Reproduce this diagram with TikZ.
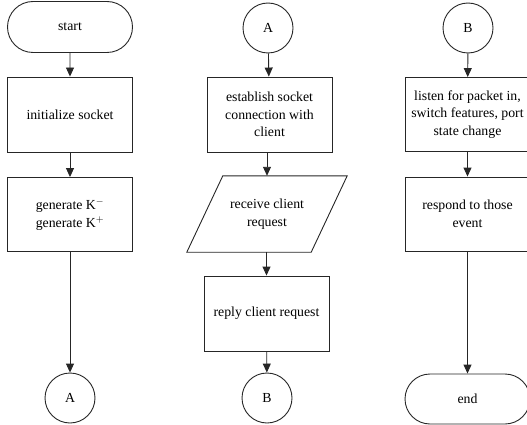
\documentclass[tikz,border=0pt]{standalone}
\usepackage{fontspec}
\setmainfont{Liberation Serif}
\usetikzlibrary{arrows.meta,shapes.misc}
\begin{document}
\begin{tikzpicture}[x=1pt,y=-1pt,
  every node/.style={font=\fontsize{13.8}{17.5}\selectfont, align=center, inner sep=0pt},
  ln/.style={draw=black!85, line width=0.9pt},
  procbox/.style={rectangle, ln, minimum width=125pt, minimum height=75pt},
  termbox/.style={rounded rectangle, ln, minimum width=125pt, minimum height=51pt},
  conn/.style={circle, ln, minimum size=50pt},
  iobox/.style={rectangle, draw=none, minimum width=124pt, minimum height=76pt},
  flow/.style={ln, -{Triangle[width=8pt,length=9pt]}}
]
\useasboundingbox (0,0) rectangle (527,425);
\clip (0,0) rectangle (527,425);

% column 1
\node[termbox] (start) at (70,27) {start};
\node[procbox] (init) at (70,114.5) {initialize socket};
\node[procbox, minimum height=74pt] (gen) at (70,214.5) {generate K$^{-}$\\generate K$^{+}$};
\node[conn] (A1) at (70,398) {A};

% column 2
\node[conn] (A2) at (268,28) {A};
\node[procbox] (est) at (269.5,114.5) {establish socket\\connection with\\client};
\node[iobox] (recv) at (267,214) {receive client\\request};
\draw[ln] ([xshift=18pt]recv.north west) -- ([xshift=18pt]recv.north east)
  -- ([xshift=-18pt]recv.south east) -- ([xshift=-18pt]recv.south west) -- cycle;
\node[procbox] (reply) at (266.5,313.5) {reply client request};
\node[conn] (B2) at (267,398) {B};

% column 3
\node[conn] (B3) at (468,28) {B};
\node[procbox, minimum height=74pt] (listen) at (467.5,114.5) {listen for packet in,\\switch features, port\\state change};
\node[procbox, minimum height=74pt] (resp) at (467.5,214) {respond to those\\event};
\node[termbox, minimum height=50pt] (end) at (467.5,399) {end};

% connectors
\draw[flow] (start) -- (init);
\draw[flow] (init) -- (gen);
\draw[flow] (gen) -- (A1);
\draw[flow] (A2) -- (est);
\draw[flow] (est.south -| recv.north) -- (recv.north);
\draw[flow] (recv.south -| reply.north) -- (reply.north);
\draw[flow] (reply) -- (B2);
\draw[flow] (B3) -- (listen);
\draw[flow] (listen) -- (resp);
\draw[flow] (resp) -- (end);
\end{tikzpicture}
\end{document}
